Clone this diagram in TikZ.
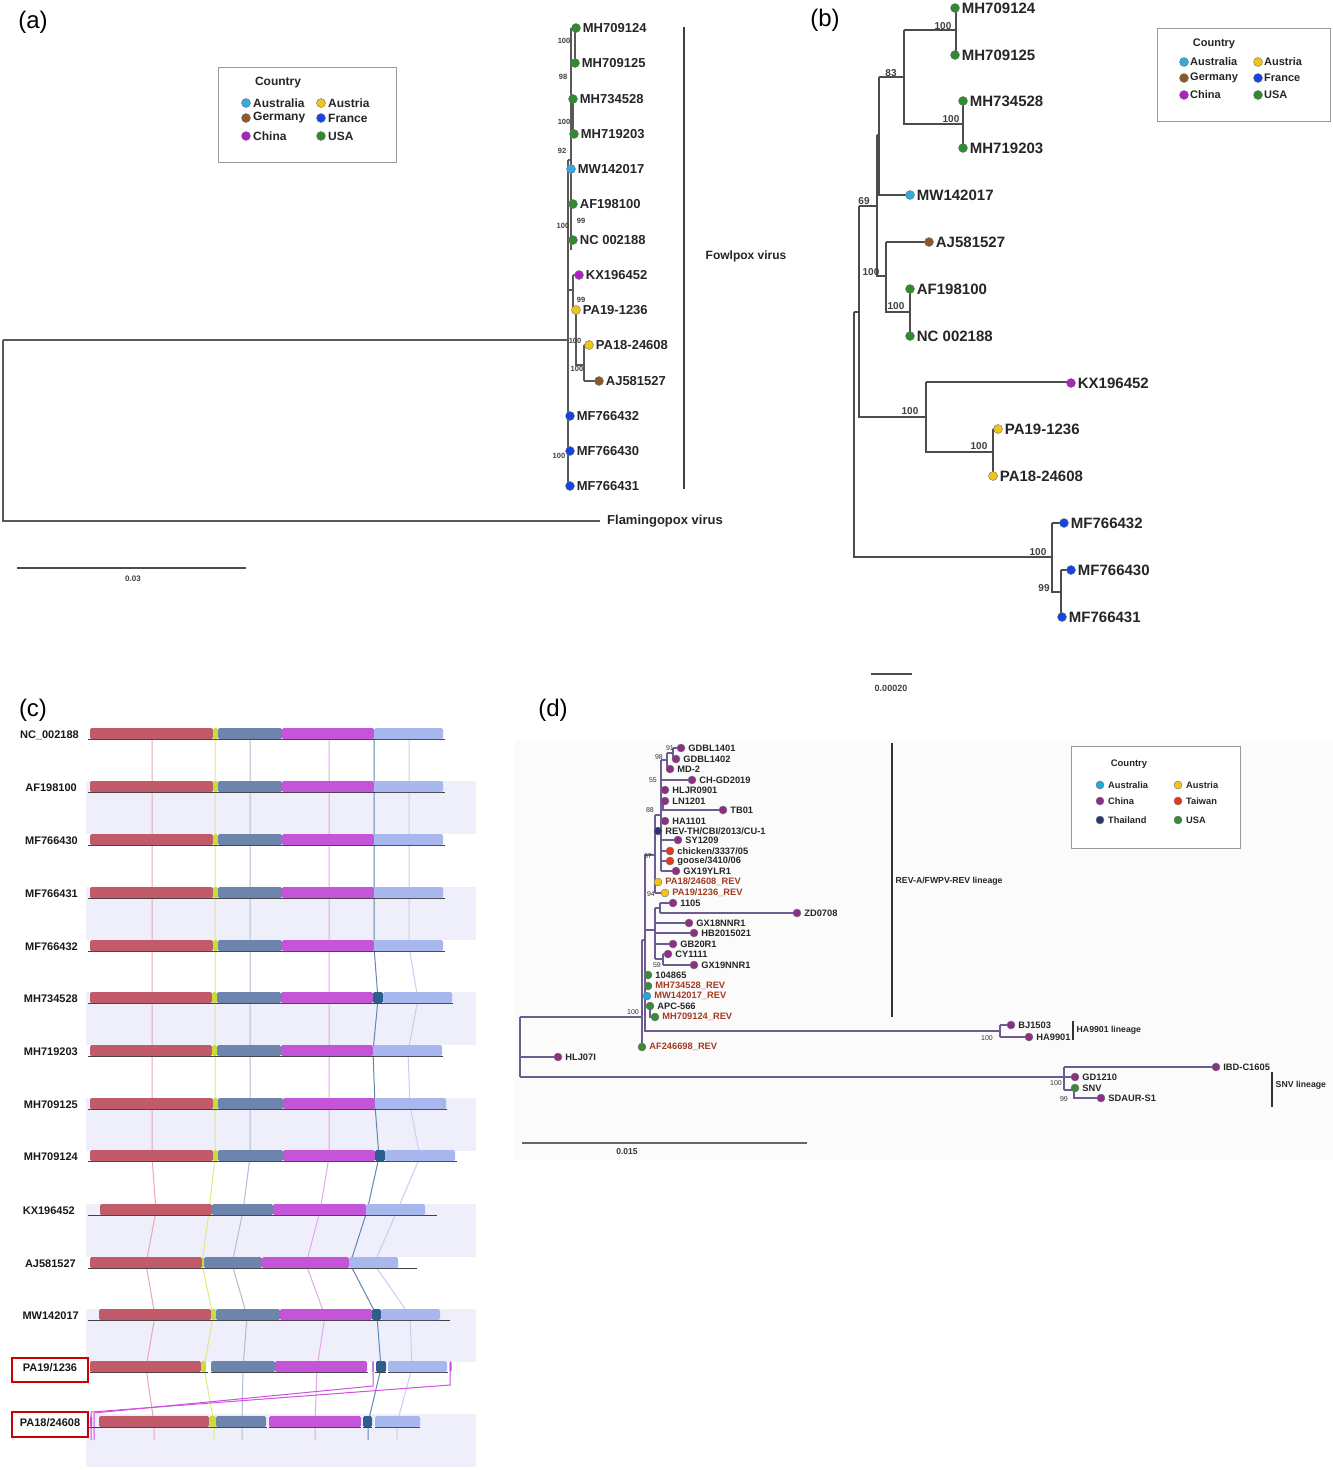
\documentclass[tikz,border=0pt]{standalone}
\usepackage{fontspec}
\setmainfont{Liberation Sans}
\newcommand\fsz[1]{\fontsize{#1}{#1}\selectfont}
\definecolor{cusa}{HTML}{2E8B2E}
\definecolor{caus}{HTML}{33AADD}
\definecolor{cchn}{HTML}{B020C8}
\definecolor{caut}{HTML}{F2C318}
\definecolor{cger}{HTML}{8B5A2B}
\definecolor{cfra}{HTML}{1444E6}
\definecolor{dchn}{HTML}{8E2F86}
\definecolor{dtwn}{HTML}{E03A22}
\definecolor{dtha}{HTML}{2C3470}
\definecolor{dusa}{HTML}{3A8A3A}
\definecolor{daus}{HTML}{20A8E0}
\definecolor{revred}{HTML}{A33A22}
\definecolor{dline}{HTML}{6C5C90}
\definecolor{gred}{HTML}{C25B69}
\definecolor{gyel}{HTML}{C8DD3A}
\definecolor{gsla}{HTML}{6D84AC}
\definecolor{gmag}{HTML}{C454D8}
\definecolor{gdkb}{HTML}{2E5E8E}
\definecolor{glig}{HTML}{A8B8EE}
\definecolor{lred}{HTML}{E9A7B0}
\definecolor{lyel}{HTML}{DDEB7E}
\definecolor{lsla}{HTML}{AEBDD4}
\definecolor{lmag}{HTML}{E5A5EE}
\definecolor{ldkb}{HTML}{5F87B0}
\definecolor{llig}{HTML}{C4CFF2}
\definecolor{bandc}{HTML}{EFEFFB}
\definecolor{xmag}{HTML}{D050E0}
\newcommand\gblk[4]{\fill[#4, rounded corners=1.5pt] (#1,#3-7) rectangle (#2,#3+4);}
\newcommand\gbase[3]{\draw[basel] (#1,#3+4)--(#2,#3+4);}
\begin{document}
\begin{tikzpicture}[x=1pt,y=-1pt,
  plab/.style={font=\fsz{24}, inner sep=0pt},
  dot/.style={circle, inner sep=0pt, minimum size=9pt, draw=black!55, line width=0.4pt},
  ddot/.style={circle, inner sep=0pt, minimum size=8pt, draw=black!55, line width=0.4pt},
  tipa/.style={font=\bfseries\fsz{13}, anchor=west, inner sep=1pt, text=black!85},
  tipb/.style={font=\bfseries\fsz{15}, anchor=west, inner sep=1pt, text=black!85},
  dtip/.style={font=\bfseries\fsz{9.3}, anchor=west, inner sep=0.5pt, text=black!85},
  rtip/.style={dtip, text=revred},
  bsa/.style={font=\bfseries\fsz{7.5}, inner sep=0pt, text=black!75},
  bsb/.style={font=\bfseries\fsz{10}, inner sep=0pt, text=black!75},
  bsd/.style={font=\fsz{7}, inner sep=0pt, text=black!80, anchor=east},
  br/.style={draw=black!65, line width=1.1pt},
  brb/.style={draw=black!70, line width=1.3pt},
  dl/.style={draw=dline, line width=1.1pt},
  legbox/.style={draw=black!40, line width=0.9pt, anchor=north west, inner sep=0pt},
  legh/.style={font=\bfseries\fsz{12}, inner sep=0pt, text=black!85},
  legt/.style={font=\bfseries\fsz{12}, anchor=west, inner sep=0pt, text=black!85},
  rowl/.style={font=\bfseries\fsz{11}, anchor=east, inner sep=0pt, text=black!90},
  basel/.style={draw=black!75, line width=1pt},
  ln/.style={line width=1pt},
  bar/.style={draw=black!75, line width=1.3pt}
]
\useasboundingbox (0,0) rectangle (1333,1470);
\fill[white] (0,0) rectangle (1333,1470);

%% ================= Panel (a) =================
\node[plab] (pa) at (33,22) {(a)};
\node[legbox, minimum width=178pt, minimum height=95pt] (lega) at (218,67) {};
\node[legh] (lgaH) at (278,83) {Country};
\node[dot, fill=caus] (lga1) at (246,103) {}; \node[legt] (lgt1) at (253,103) {Australia};
\node[dot, fill=caut] (lga2) at (321,103) {}; \node[legt] (lgt2) at (328,103) {Austria};
\node[dot, fill=cger] (lga3) at (246,118) {}; \node[legt] (lgt3) at (253,118) {Germany};
\node[dot, fill=cfra] (lga4) at (321,118) {}; \node[legt] (lgt4) at (328,118) {France};
\node[dot, fill=cchn] (lga5) at (246,136) {}; \node[legt] (lgt5) at (253,136) {China};
\node[dot, fill=cusa] (lga6) at (321,136) {}; \node[legt] (lgt6) at (328,136) {USA};

\draw[br] (3,340)--(568,340);
\draw[br] (3,340)--(3,521)--(600,521);
\draw[br] (568,160)--(568,486);
\draw[br] (568,160)--(571,160);
\draw[br] (571,28)--(571,250);
\draw[br] (575,28)--(575,63);
\draw[br] (573,99)--(573,134);
\draw[br] (568,290)--(573,290);
\draw[br] (573,275)--(573,310);
\draw[br] (573,275)--(579,275);
\draw[br] (573,310)--(576,310);
\draw[br] (576,310)--(576,365)--(584,365);
\draw[br] (584,345)--(584,381);
\draw[br] (584,345)--(589,345);
\draw[br] (584,381)--(599,381);

\node[dot, fill=cusa] (a1) at (576,28) {};  \node[tipa] (la1) at ([xshift=1pt]a1.east) {MH709124};
\node[dot, fill=cusa] (a2) at (575,63) {};  \node[tipa] (la2) at ([xshift=1pt]a2.east) {MH709125};
\node[dot, fill=cusa] (a3) at (573,99) {};  \node[tipa] (la3) at ([xshift=1pt]a3.east) {MH734528};
\node[dot, fill=cusa] (a4) at (574,134) {}; \node[tipa] (la4) at ([xshift=1pt]a4.east) {MH719203};
\node[dot, fill=caus] (a5) at (571,169) {}; \node[tipa] (la5) at ([xshift=1pt]a5.east) {MW142017};
\node[dot, fill=cusa] (a6) at (573,204) {}; \node[tipa] (la6) at ([xshift=1pt]a6.east) {AF198100};
\node[dot, fill=cusa] (a7) at (573,240) {}; \node[tipa] (la7) at ([xshift=1pt]a7.east) {NC 002188};
\node[dot, fill=cchn] (a8) at (579,275) {}; \node[tipa] (la8) at ([xshift=1pt]a8.east) {KX196452};
\node[dot, fill=caut] (a9) at (576,310) {}; \node[tipa] (la9) at ([xshift=1pt]a9.east) {PA19-1236};
\node[dot, fill=caut] (a10) at (589,345) {}; \node[tipa] (la10) at ([xshift=1pt]a10.east) {PA18-24608};
\node[dot, fill=cger] (a11) at (599,381) {}; \node[tipa] (la11) at ([xshift=1pt]a11.east) {AJ581527};
\node[dot, fill=cfra] (a12) at (570,416) {}; \node[tipa] (la12) at ([xshift=1pt]a12.east) {MF766432};
\node[dot, fill=cfra] (a13) at (570,451) {}; \node[tipa] (la13) at ([xshift=1pt]a13.east) {MF766430};
\node[dot, fill=cfra] (a14) at (570,486) {}; \node[tipa] (la14) at ([xshift=1pt]a14.east) {MF766431};
\node[tipa] (lflam) at (606,521) {Flamingopox virus};

\node[bsa] (ba1) at (564,41) {100};
\node[bsa] (ba2) at (563,77) {98};
\node[bsa] (ba3) at (564,122) {100};
\node[bsa] (ba4) at (562,151) {92};
\node[bsa] (ba5) at (581,221) {99};
\node[bsa] (ba6) at (563,226) {100};
\node[bsa] (ba7) at (581,300) {99};
\node[bsa] (ba8) at (575,341) {100};
\node[bsa] (ba9) at (577,369) {100};
\node[bsa] (ba10) at (559,456) {100};

\coordinate (fvt) at (684,27); \coordinate (fvb) at (684,489);
\draw[bar] (fvt)--(fvb);
\node[font=\bfseries\fsz{12}, inner sep=0pt, text=black!85] (fvl) at (746,256) {Fowlpox virus};
\coordinate (sa1) at (17,568); \coordinate (sa2) at (246,568);
\draw[draw=black!70, line width=1.2pt] (sa1)--(sa2);
\node[bsa, font=\bfseries\fsz{8}] (sal) at (133,579) {0.03};

%% ================= Panel (b) =================
\node[plab] (pb) at (825,20) {(b)};
\node[legbox, minimum width=173pt, minimum height=93pt] (legb) at (1157,28) {};
\node[legh, font=\bfseries\fsz{11}] (lgbH) at (1214,44) {Country};
\node[dot, fill=caus] (lgb1) at (1184,62) {}; \node[legt, font=\bfseries\fsz{11}] (lgbt1) at (1190,62) {Australia};
\node[dot, fill=caut] (lgb2) at (1258,62) {}; \node[legt, font=\bfseries\fsz{11}] (lgbt2) at (1264,62) {Austria};
\node[dot, fill=cger] (lgb3) at (1184,78) {}; \node[legt, font=\bfseries\fsz{11}] (lgbt3) at (1190,78) {Germany};
\node[dot, fill=cfra] (lgb4) at (1258,78) {}; \node[legt, font=\bfseries\fsz{11}] (lgbt4) at (1264,78) {France};
\node[dot, fill=cchn] (lgb5) at (1184,95) {}; \node[legt, font=\bfseries\fsz{11}] (lgbt5) at (1190,95) {China};
\node[dot, fill=cusa] (lgb6) at (1258,95) {}; \node[legt, font=\bfseries\fsz{11}] (lgbt6) at (1264,95) {USA};

\draw[brb] (956,8)--(956,55);
\draw[brb] (904,30)--(956,30);
\draw[brb] (904,30)--(904,124)--(963,124);
\draw[brb] (963,101)--(963,148);
\draw[brb] (879,77)--(904,77);
\draw[brb] (879,77)--(879,195)--(910,195);
\draw[brb] (877,135)--(879,135);
\draw[brb] (877,135)--(877,276)--(886,276);
\draw[brb] (886,242)--(929,242);
\draw[brb] (886,242)--(886,312)--(910,312);
\draw[brb] (910,289)--(910,336);
\draw[brb] (859,206)--(877,206);
\draw[brb] (859,206)--(859,417)--(926,417);
\draw[brb] (854,312)--(859,312);
\draw[brb] (854,312)--(854,557)--(1052,557);
\draw[brb] (926,382)--(1071,382);
\draw[brb] (926,382)--(926,452)--(993,452);
\draw[brb] (993,429)--(993,476);
\draw[brb] (993,429)--(998,429);
\draw[brb] (1052,523)--(1064,523);
\draw[brb] (1052,523)--(1052,592)--(1061,592);
\draw[brb] (1061,570)--(1071,570);
\draw[brb] (1061,570)--(1061,617);

\node[dot, fill=cusa] (b1) at (955,8) {};   \node[tipb] (lb1) at ([xshift=1pt]b1.east) {MH709124};
\node[dot, fill=cusa] (b2) at (955,55) {};  \node[tipb] (lb2) at ([xshift=1pt]b2.east) {MH709125};
\node[dot, fill=cusa] (b3) at (963,101) {}; \node[tipb] (lb3) at ([xshift=1pt]b3.east) {MH734528};
\node[dot, fill=cusa] (b4) at (963,148) {}; \node[tipb] (lb4) at ([xshift=1pt]b4.east) {MH719203};
\node[dot, fill=caus] (b5) at (910,195) {}; \node[tipb] (lb5) at ([xshift=1pt]b5.east) {MW142017};
\node[dot, fill=cger] (b6) at (929,242) {}; \node[tipb] (lb6) at ([xshift=1pt]b6.east) {AJ581527};
\node[dot, fill=cusa] (b7) at (910,289) {}; \node[tipb] (lb7) at ([xshift=1pt]b7.east) {AF198100};
\node[dot, fill=cusa] (b8) at (910,336) {}; \node[tipb] (lb8) at ([xshift=1pt]b8.east) {NC 002188};
\node[dot, fill=cchn] (b9) at (1071,383) {}; \node[tipb] (lb9) at ([xshift=1pt]b9.east) {KX196452};
\node[dot, fill=caut] (b10) at (998,429) {}; \node[tipb] (lb10) at ([xshift=1pt]b10.east) {PA19-1236};
\node[dot, fill=caut] (b11) at (993,476) {}; \node[tipb] (lb11) at ([xshift=1pt]b11.east) {PA18-24608};
\node[dot, fill=cfra] (b12) at (1064,523) {}; \node[tipb] (lb12) at ([xshift=1pt]b12.east) {MF766432};
\node[dot, fill=cfra] (b13) at (1071,570) {}; \node[tipb] (lb13) at ([xshift=1pt]b13.east) {MF766430};
\node[dot, fill=cfra] (b14) at (1062,617) {}; \node[tipb] (lb14) at ([xshift=1pt]b14.east) {MF766431};

\node[bsb] (bb1) at (943,26) {100};
\node[bsb] (bb2) at (891,73) {83};
\node[bsb] (bb3) at (951,119) {100};
\node[bsb] (bb4) at (864,201) {69};
\node[bsb] (bb5) at (871,272) {100};
\node[bsb] (bb6) at (896,306) {100};
\node[bsb] (bb7) at (910,411) {100};
\node[bsb] (bb8) at (979,446) {100};
\node[bsb] (bb9) at (1038,552) {100};
\node[bsb] (bb10) at (1044,588) {99};

\coordinate (sb1) at (871,674); \coordinate (sb2) at (912,674);
\draw[draw=black!70, line width=1.2pt] (sb1)--(sb2);
\node[bsb, font=\bfseries\fsz{9}] (sbl) at (891,688) {0.00020};

%% ================= Panel (c) =================
\node[plab] (pc) at (33,710) {(c)};
% bands
\fill[bandc] (86,781) rectangle (476,834);
\fill[bandc] (86,887) rectangle (476,940);
\fill[bandc] (86,992) rectangle (476,1045);
\fill[bandc] (86,1098) rectangle (476,1151);
\fill[bandc] (86,1204) rectangle (476,1257);
\fill[bandc] (86,1309) rectangle (476,1362);
\fill[bandc] (86,1414) rectangle (476,1467);
% synteny lines
\draw[ln, lred] (152,735)--(152,1157)--(156,1211)--(146,1264)--(155,1316)--(146,1368)--(154,1423)--(154,1440);
\draw[ln, lyel] (215,735)--(215,1157)--(209,1211)--(202,1264)--(213,1316)--(204,1368)--(214,1423)--(214,1440);
\draw[ln, lsla] (250,735)--(250,1157)--(243,1211)--(232,1264)--(247,1316)--(243,1368)--(242,1423)--(242,1440);
\draw[ln, lmag] (329,735)--(329,1157)--(320,1211)--(306,1264)--(325,1316)--(317,1368)--(315,1423)--(315,1440);
\draw[ln, ldkb] (374,735)--(374,947)--(378,999)--(373,1052)--(375,1105)--(379,1157)--(367,1211)--(350,1264)--(377,1316)--(381,1368)--(368,1423)--(368,1440);
\draw[ln, llig] (409,735)--(409,947)--(418,999)--(408,1052)--(410,1105)--(420,1157)--(397,1211)--(374,1264)--(410,1316)--(412,1368)--(397,1423)--(397,1440);
% crossing magenta lines
\coordinate (x1a) at (373,1362); \coordinate (x1b) at (373,1386); \coordinate (x1c) at (94,1413); \coordinate (x1d) at (94,1440);
\coordinate (x2a) at (450,1362); \coordinate (x2b) at (450,1385); \coordinate (x2c) at (91,1412); \coordinate (x2d) at (91,1440);
\draw[ln, xmag] (x1a)--(x1b)--(x1c)--(x1d);
\draw[ln, xmag] (x2a)--(x2b)--(x2c)--(x2d);

% rows 1-5 identical
\foreach \yy in {735,788,841,894,947}{
  \gbase{88}{445}{\yy}
  \gblk{90}{213}{\yy}{gred} \gblk{213}{218}{\yy}{gyel} \gblk{218}{282}{\yy}{gsla}
  \gblk{282}{374}{\yy}{gmag} \gblk{374}{443}{\yy}{glig}
}
% row 6 MH734528
\gbase{88}{453}{999}
\gblk{90}{212}{999}{gred} \gblk{212}{217}{999}{gyel} \gblk{217}{281}{999}{gsla}
\gblk{281}{373}{999}{gmag} \gblk{373}{383}{999}{gdkb} \gblk{383}{452}{999}{glig}
% row 7 MH719203
\gbase{88}{443}{1052}
\gblk{90}{212}{1052}{gred} \gblk{212}{217}{1052}{gyel} \gblk{217}{281}{1052}{gsla}
\gblk{281}{373}{1052}{gmag} \gblk{373}{442}{1052}{glig}
% row 8 MH709125
\gbase{88}{447}{1105}
\gblk{90}{213}{1105}{gred} \gblk{213}{218}{1105}{gyel} \gblk{218}{283}{1105}{gsla}
\gblk{283}{375}{1105}{gmag} \gblk{375}{446}{1105}{glig}
% row 9 MH709124
\gbase{88}{457}{1157}
\gblk{90}{213}{1157}{gred} \gblk{213}{218}{1157}{gyel} \gblk{218}{283}{1157}{gsla}
\gblk{283}{375}{1157}{gmag} \gblk{375}{385}{1157}{gdkb} \gblk{385}{455}{1157}{glig}
% row 10 KX196452
\gbase{88}{437}{1211}
\gblk{100}{212}{1211}{gred} \gblk{212}{273}{1211}{gsla}
\gblk{273}{366}{1211}{gmag} \gblk{366}{425}{1211}{glig}
% row 11 AJ581527
\gbase{88}{417}{1264}
\gblk{90}{202}{1264}{gred} \gblk{202}{204}{1264}{gyel} \gblk{204}{262}{1264}{gsla}
\gblk{262}{349}{1264}{gmag} \gblk{349}{398}{1264}{glig}
% row 12 MW142017
\gbase{88}{450}{1316}
\gblk{99}{211}{1316}{gred} \gblk{211}{216}{1316}{gyel} \gblk{216}{280}{1316}{gsla}
\gblk{280}{372}{1316}{gmag} \gblk{372}{381}{1316}{gdkb} \gblk{381}{440}{1316}{glig}
% row 13 PA19/1236
\gbase{90}{208}{1368} \gbase{211}{368}{1368} \gbase{375}{386}{1368} \gbase{388}{448}{1368}
\gblk{90}{201}{1368}{gred} \gblk{201}{206}{1368}{gyel} \gblk{211}{275}{1368}{gsla}
\gblk{275}{367}{1368}{gmag} \gblk{372.3}{373.7}{1368}{gmag} \gblk{376}{386}{1368}{gdkb}
\gblk{388}{447}{1368}{glig} \gblk{449.5}{451.5}{1368}{gmag}
% row 14 PA18/24608
\gbase{88}{267}{1423} \gbase{269}{361}{1423} \gbase{363}{372}{1423} \gbase{375}{420}{1423}
\gblk{90}{92}{1423}{gmag}
\gblk{99}{209}{1423}{gred} \gblk{209}{216}{1423}{gyel} \gblk{216}{266}{1423}{gsla}
\gblk{269}{361}{1423}{gmag} \gblk{363}{372}{1423}{gdkb} \gblk{375}{420}{1423}{glig}

% row labels
\node[rowl] (r1) at (79,735) {NC\_002188};
\node[rowl] (r2) at (77,788) {AF198100};
\node[rowl] (r3) at (78,841) {MF766430};
\node[rowl] (r4) at (78,894) {MF766431};
\node[rowl] (r5) at (78,947) {MF766432};
\node[rowl] (r6) at (78,999) {MH734528};
\node[rowl] (r7) at (78,1052) {MH719203};
\node[rowl] (r8) at (78,1105) {MH709125};
\node[rowl] (r9) at (78,1157) {MH709124};
\node[rowl] (r10) at (75,1211) {KX196452};
\node[rowl] (r11) at (76,1264) {AJ581527};
\node[rowl] (r12) at (79,1316) {MW142017};
\node[rowl, anchor=center] (r13) at (50,1368) {PA19/1236};
\node[rowl, anchor=center] (r14) at (50,1423) {PA18/24608};
\draw[draw=red!80!black, line width=1.6pt] (12,1358) rectangle (88,1382);
\draw[draw=red!80!black, line width=1.6pt] (12,1412) rectangle (88,1437);

%% ================= Panel (d) =================
\node[plab] (pd) at (553,710) {(d)};
\fill[black!1.5] (515,740) rectangle (1333,1160);
\node[legbox, minimum width=169pt, minimum height=102pt, fill=white] (legd) at (1071,746) {};
\node[legh, font=\bfseries\fsz{9.5}] (lgdH) at (1129,764) {Country};
\node[ddot, fill=daus] (lgd1) at (1100,785) {}; \node[legt, font=\bfseries\fsz{9.3}] (lgdt1) at (1108,785) {Australia};
\node[ddot, fill=caut] (lgd2) at (1178,785) {}; \node[legt, font=\bfseries\fsz{9.3}] (lgdt2) at (1186,785) {Austria};
\node[ddot, fill=dchn] (lgd3) at (1100,801) {}; \node[legt, font=\bfseries\fsz{9.3}] (lgdt3) at (1108,801) {China};
\node[ddot, fill=dtwn] (lgd4) at (1178,801) {}; \node[legt, font=\bfseries\fsz{9.3}] (lgdt4) at (1186,801) {Taiwan};
\node[ddot, fill=dtha] (lgd5) at (1100,820) {}; \node[legt, font=\bfseries\fsz{9.3}] (lgdt5) at (1108,820) {Thailand};
\node[ddot, fill=dusa] (lgd6) at (1178,820) {}; \node[legt, font=\bfseries\fsz{9.3}] (lgdt6) at (1186,820) {USA};

% tree lines
\draw[dl] (520,1017)--(520,1077);
\draw[dl] (520,1017)--(642,1017);
\draw[dl] (520,1057)--(558,1057);
\draw[dl] (520,1077)--(1064,1077);
\draw[dl] (642,940)--(642,1047);
\draw[dl] (642,940)--(645,940);
\draw[dl] (645,855)--(645,1031)--(1000,1031);
\draw[dl] (1000,1025)--(1000,1037);
\draw[dl] (1000,1025)--(1011,1025);
\draw[dl] (1000,1037)--(1029,1037);
\draw[dl] (645,975)--(648,975);
\draw[dl] (645,986)--(648,986);
\draw[dl] (645,1006)--(650,1006)--(650,1017)--(655,1017);
\draw[dl] (645,855)--(655,855);
\draw[dl] (655,815)--(655,893);
\draw[dl] (655,831)--(658,831);
\draw[dl] (655,882)--(658,882);
\draw[dl] (655,893)--(665,893);
\draw[dl] (655,815)--(661,815);
\draw[dl] (661,760)--(661,871);
\draw[dl] (661,780)--(692,780);
\draw[dl] (661,790)--(665,790);
\draw[dl] (661,801)--(665,801);
\draw[dl] (663,801)--(663,810)--(723,810);
\draw[dl] (661,821)--(665,821);
\draw[dl] (661,840)--(678,840);
\draw[dl] (661,851)--(670,851);
\draw[dl] (661,861)--(670,861);
\draw[dl] (661,871)--(676,871);
\draw[dl] (661,760)--(667,760);
\draw[dl] (667,753)--(667,769)--(670,769);
\draw[dl] (667,753)--(673,753);
\draw[dl] (673,748)--(673,759)--(676,759);
\draw[dl] (673,748)--(681,748);
\draw[dl] (645,930)--(655,930);
\draw[dl] (655,908)--(655,959);
\draw[dl] (655,908)--(660,908);
\draw[dl] (660,903)--(660,913);
\draw[dl] (660,903)--(673,903);
\draw[dl] (660,913)--(797,913);
\draw[dl] (655,923)--(689,923);
\draw[dl] (655,933)--(694,933);
\draw[dl] (655,944)--(673,944);
\draw[dl] (655,959)--(663,959);
\draw[dl] (663,954)--(663,965);
\draw[dl] (663,954)--(668,954);
\draw[dl] (663,965)--(694,965);
\draw[dl] (1064,1067)--(1064,1090);
\draw[dl] (1064,1067)--(1216,1067);
\draw[dl] (1064,1077)--(1075,1077);
\draw[dl] (1064,1090)--(1074,1090);
\draw[dl] (1074,1088)--(1074,1098)--(1101,1098);

% tips
\node[ddot, fill=dchn] (d1) at (681,748) {}; \node[dtip] (ld1) at ([xshift=2.5pt]d1.east) {GDBL1401};
\node[ddot, fill=dchn] (d2) at (676,759) {}; \node[dtip] (ld2) at ([xshift=2.5pt]d2.east) {GDBL1402};
\node[ddot, fill=dchn] (d3) at (670,769) {}; \node[dtip] (ld3) at ([xshift=2.5pt]d3.east) {MD-2};
\node[ddot, fill=dchn] (d4) at (692,780) {}; \node[dtip] (ld4) at ([xshift=2.5pt]d4.east) {CH-GD2019};
\node[ddot, fill=dchn] (d5) at (665,790) {}; \node[dtip] (ld5) at ([xshift=2.5pt]d5.east) {HLJR0901};
\node[ddot, fill=dchn] (d6) at (665,801) {}; \node[dtip] (ld6) at ([xshift=2.5pt]d6.east) {LN1201};
\node[ddot, fill=dchn] (d7) at (723,810) {}; \node[dtip] (ld7) at ([xshift=2.5pt]d7.east) {TB01};
\node[ddot, fill=dchn] (d8) at (665,821) {}; \node[dtip] (ld8) at ([xshift=2.5pt]d8.east) {HA1101};
\node[ddot, fill=dtha] (d9) at (658,831) {}; \node[dtip] (ld9) at ([xshift=2.5pt]d9.east) {REV-TH/CBI/2013/CU-1};
\node[ddot, fill=dchn] (d10) at (678,840) {}; \node[dtip] (ld10) at ([xshift=2.5pt]d10.east) {SY1209};
\node[ddot, fill=dtwn] (d11) at (670,851) {}; \node[dtip] (ld11) at ([xshift=2.5pt]d11.east) {chicken/3337/05};
\node[ddot, fill=dtwn] (d12) at (670,861) {}; \node[dtip] (ld12) at ([xshift=2.5pt]d12.east) {goose/3410/06};
\node[ddot, fill=dchn] (d13) at (676,871) {}; \node[dtip] (ld13) at ([xshift=2.5pt]d13.east) {GX19YLR1};
\node[ddot, fill=caut] (d14) at (658,882) {}; \node[rtip] (ld14) at ([xshift=2.5pt]d14.east) {PA18/24608\_REV};
\node[ddot, fill=caut] (d15) at (665,893) {}; \node[rtip] (ld15) at ([xshift=2.5pt]d15.east) {PA19/1236\_REV};
\node[ddot, fill=dchn] (d16) at (673,903) {}; \node[dtip] (ld16) at ([xshift=2.5pt]d16.east) {1105};
\node[ddot, fill=dchn] (d17) at (797,913) {}; \node[dtip] (ld17) at ([xshift=2.5pt]d17.east) {ZD0708};
\node[ddot, fill=dchn] (d18) at (689,923) {}; \node[dtip] (ld18) at ([xshift=2.5pt]d18.east) {GX18NNR1};
\node[ddot, fill=dchn] (d19) at (694,933) {}; \node[dtip] (ld19) at ([xshift=2.5pt]d19.east) {HB2015021};
\node[ddot, fill=dchn] (d20) at (673,944) {}; \node[dtip] (ld20) at ([xshift=2.5pt]d20.east) {GB20R1};
\node[ddot, fill=dchn] (d21) at (668,954) {}; \node[dtip] (ld21) at ([xshift=2.5pt]d21.east) {CY1111};
\node[ddot, fill=dchn] (d22) at (694,965) {}; \node[dtip] (ld22) at ([xshift=2.5pt]d22.east) {GX19NNR1};
\node[ddot, fill=dusa] (d23) at (648,975) {}; \node[dtip] (ld23) at ([xshift=2.5pt]d23.east) {104865};
\node[ddot, fill=dusa] (d24) at (648,986) {}; \node[rtip] (ld24) at ([xshift=2.5pt]d24.east) {MH734528\_REV};
\node[ddot, fill=daus] (d25) at (647,996) {}; \node[rtip] (ld25) at ([xshift=2.5pt]d25.east) {MW142017\_REV};
\node[ddot, fill=dusa] (d26) at (650,1006) {}; \node[dtip] (ld26) at ([xshift=2.5pt]d26.east) {APC-566};
\node[ddot, fill=dusa] (d27) at (655,1017) {}; \node[rtip] (ld27) at ([xshift=2.5pt]d27.east) {MH709124\_REV};
\node[ddot, fill=dusa] (d28) at (642,1047) {}; \node[rtip] (ld28) at ([xshift=2.5pt]d28.east) {AF246698\_REV};
\node[ddot, fill=dchn] (d29) at (558,1057) {}; \node[dtip] (ld29) at ([xshift=2.5pt]d29.east) {HLJ07I};
\node[ddot, fill=dchn] (d30) at (1011,1025) {}; \node[dtip] (ld30) at ([xshift=2.5pt]d30.east) {BJ1503};
\node[ddot, fill=dchn] (d31) at (1029,1037) {}; \node[dtip] (ld31) at ([xshift=2.5pt]d31.east) {HA9901};
\node[ddot, fill=dchn] (d32) at (1216,1067) {}; \node[dtip] (ld32) at ([xshift=2.5pt]d32.east) {IBD-C1605};
\node[ddot, fill=dchn] (d33) at (1075,1077) {}; \node[dtip] (ld33) at ([xshift=2.5pt]d33.east) {GD1210};
\node[ddot, fill=dusa] (d34) at (1075,1088) {}; \node[dtip] (ld34) at ([xshift=2.5pt]d34.east) {SNV};
\node[ddot, fill=dchn] (d35) at (1101,1098) {}; \node[dtip] (ld35) at ([xshift=2.5pt]d35.east) {SDAUR-S1};

% bootstrap (d)
\node[bsd] (bd1) at (674,748) {91};
\node[bsd] (bd2) at (663,757) {98};
\node[bsd] (bd3) at (657,780) {55};
\node[bsd] (bd4) at (654,810) {88};
\node[bsd] (bd5) at (652,856) {67};
\node[bsd] (bd6) at (655,894) {94};
\node[bsd] (bd7) at (661,965) {59};
\node[bsd] (bd8) at (639,1012) {100};
\node[bsd] (bd9) at (993,1038) {100};
\node[bsd] (bd10) at (1062,1083) {100};
\node[bsd] (bd11) at (1068,1099) {99};

% lineage brackets
\coordinate (lr1) at (892,743); \coordinate (lr2) at (892,1017);
\draw[draw=black!80, line width=1.2pt] (lr1)--(lr2);
\node[dtip, font=\bfseries\fsz{8.7}] (lrl) at (895,881) {REV-A/FWPV-REV lineage};
\coordinate (lh1) at (1073,1021); \coordinate (lh2) at (1073,1040);
\draw[draw=black!80, line width=1.2pt] (lh1)--(lh2);
\node[dtip, font=\bfseries\fsz{8.7}] (lhl) at (1076,1030) {HA9901 lineage};
\coordinate (ls1) at (1272,1072); \coordinate (ls2) at (1272,1107);
\draw[draw=black!80, line width=1.2pt] (ls1)--(ls2);
\node[dtip, font=\bfseries\fsz{8.7}] (lsl) at (1275,1085) {SNV lineage};

\coordinate (sd1) at (522,1143); \coordinate (sd2) at (807,1143);
\draw[draw=black!60, line width=1.2pt] (sd1)--(sd2);
\node[bsd, anchor=center, font=\bfseries\fsz{8.5}] (sdl) at (627,1152) {0.015};
\end{tikzpicture}
\end{document}
